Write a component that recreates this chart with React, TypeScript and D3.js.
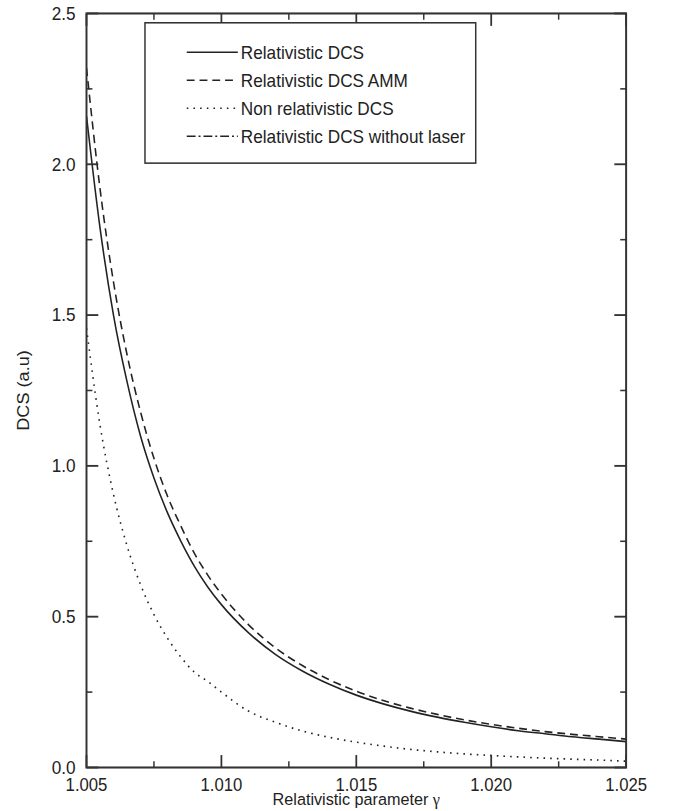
import React from 'react';
import * as d3 from 'd3';

const gamma = [1.005, 1.0055, 1.006, 1.0065, 1.007, 1.0075, 1.008, 1.0085, 1.009, 1.0095, 1.01, 1.011, 1.012, 1.013, 1.014, 1.015, 1.016, 1.017, 1.018, 1.019, 1.02, 1.021, 1.022, 1.023, 1.024, 1.025];
const relDCS = [2.16, 1.79, 1.5, 1.28, 1.1, 0.96, 0.845, 0.75, 0.667, 0.598, 0.54, 0.447, 0.375, 0.32, 0.276, 0.24, 0.211, 0.187, 0.167, 0.15, 0.135, 0.122, 0.112, 0.102, 0.094, 0.086];
const relDCSAMM = [2.32, 1.92, 1.61, 1.37, 1.18, 1.025, 0.9, 0.8, 0.71, 0.637, 0.575, 0.474, 0.397, 0.338, 0.291, 0.253, 0.222, 0.197, 0.176, 0.158, 0.143, 0.13, 0.119, 0.11, 0.102, 0.094];
const nonRelDCS = [1.456, 1.136, 0.906, 0.736, 0.607, 0.507, 0.429, 0.366, 0.316, 0.285, 0.25, 0.187, 0.15, 0.121, 0.1, 0.084, 0.071, 0.06, 0.052, 0.045, 0.04, 0.035, 0.031, 0.0275, 0.0247, 0.021];

const xTicks = [1.005, 1.01, 1.015, 1.02, 1.025];
const xTickLabels = ['1.005', '1.010', '1.015', '1.020', '1.025'];
const xMinorTicks = [1.0075, 1.0125, 1.0175, 1.0225];
const yTicks = [0, 0.5, 1.0, 1.5, 2.0, 2.5];
const yTickLabels = ['0.0', '0.5', '1.0', '1.5', '2.0', '2.5'];
const yMinorTicks = [0.25, 0.75, 1.25, 1.75, 2.25];
const legendLabels = ['Relativistic DCS', 'Relativistic DCS AMM', 'Non relativistic DCS', 'Relativistic DCS without laser'];
const legendDash = ['none', '8,5', '1.6,5.2', '9,3,2,3'];

const W = 690, H = 811;
// drawing space (source picture proportions), stretched to the 690x811 frame
const W0 = 702, H0 = 783;
const L = 88, R = 637, T = 13, B = 741;
const FONT = '"Liberation Sans", Arial, Helvetica, sans-serif';
const INK = '#222';

export default function App() {
  const x = d3.scaleLinear().domain([1.005, 1.025]).range([L, R]);
  const y = d3.scaleLinear().domain([0, 2.5]).range([B, T]);
  const line = d3.line<number>().x((_, i) => x(gamma[i])).y((d) => y(d)).curve(d3.curveMonotoneX);
  const series = [
    { v: relDCS, dash: 'none' },
    { v: relDCSAMM, dash: '8,5' },
    { v: nonRelDCS, dash: '1.6,5.2' },
  ];
  const fs = 17.5;
  const fsx = 17;
  return (
    <svg width={W} height={H} style={{ position: 'absolute', left: 0, top: 0, background: '#fff' }} fontFamily={FONT}>
      <defs>
        <clipPath id="plotclip">
          <rect x={L} y={T} width={R - L} height={B - T} />
        </clipPath>
      </defs>
      <g transform={`scale(${W / W0},${H / H0})`}>
        <g clipPath="url(#plotclip)">
          {series.map((s, i) => (
            <path key={i} d={line(s.v) || ''} fill="none" stroke={INK} strokeWidth={1.6} strokeDasharray={s.dash} />
          ))}
        </g>
        <rect x={L} y={T} width={R - L} height={B - T} fill="none" stroke="#333" strokeWidth={2} />
        {xTicks.map((t) => (
          <g key={'xt' + t}>
            <line x1={x(t)} x2={x(t)} y1={B} y2={B - 12} stroke="#333" strokeWidth={1.8} />
            <line x1={x(t)} x2={x(t)} y1={T} y2={T + 12} stroke="#333" strokeWidth={1.8} />
          </g>
        ))}
        {xMinorTicks.map((t) => (
          <g key={'xm' + t}>
            <line x1={x(t)} x2={x(t)} y1={B} y2={B - 6} stroke="#333" strokeWidth={1.5} />
            <line x1={x(t)} x2={x(t)} y1={T} y2={T + 6} stroke="#333" strokeWidth={1.5} />
          </g>
        ))}
        {yTicks.map((t) => (
          <g key={'yt' + t}>
            <line x1={L} x2={L + 12} y1={y(t)} y2={y(t)} stroke="#333" strokeWidth={1.8} />
            <line x1={R} x2={R - 12} y1={y(t)} y2={y(t)} stroke="#333" strokeWidth={1.8} />
          </g>
        ))}
        {yMinorTicks.map((t) => (
          <g key={'ym' + t}>
            <line x1={L} x2={L + 6} y1={y(t)} y2={y(t)} stroke="#333" strokeWidth={1.5} />
            <line x1={R} x2={R - 6} y1={y(t)} y2={y(t)} stroke="#333" strokeWidth={1.5} />
          </g>
        ))}
        {xTicks.map((t, i) => (
          <text key={'xl' + t} x={x(t)} y={B + 17} dy="0.35em" textAnchor="middle" fontSize={fsx} fill={INK}>{xTickLabels[i]}</text>
        ))}
        {yTicks.map((t, i) => (
          <text key={'yl' + t} x={L - 11} y={y(t)} dy="0.35em" textAnchor="end" fontSize={fs} fill={INK}>{yTickLabels[i]}</text>
        ))}
        <text x={(L + R) / 2} y={B + 36.5} textAnchor="middle" fontSize={16.5} fill={INK}>
          Relativistic parameter <tspan fontFamily='"Liberation Serif", serif'>γ</tspan>
        </text>
        <text transform={`translate(${30},${(T + B) / 2}) rotate(-90)`} textAnchor="middle" fontSize={fs} fill={INK}>DCS (a.u)</text>
        <rect x={147.5} y={22} width={336.5} height={135.5} fill="#fff" stroke="#333" strokeWidth={1.5} />
        {legendLabels.map((lab, i) => {
          const cy = 50.5 + i * 27;
          return (
            <g key={lab}>
              <line x1={190} x2={242} y1={cy} y2={cy} stroke={INK} strokeWidth={1.5} strokeDasharray={legendDash[i]} />
              <text x={245} y={cy} dy="0.35em" fontSize={fs} fill={INK}>{lab}</text>
            </g>
          );
        })}
      </g>
    </svg>
  );
}
